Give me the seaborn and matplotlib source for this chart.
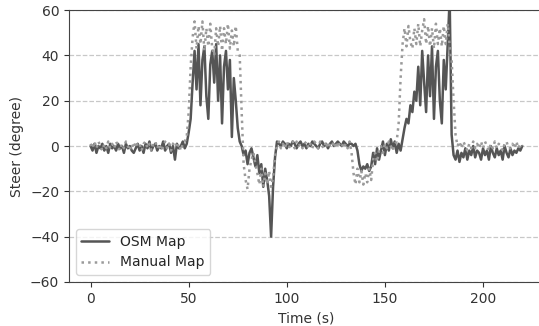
import numpy as np
import pandas as pd
import seaborn as sns
import matplotlib
matplotlib.use("Agg")
import matplotlib.pyplot as plt

# steering angle, 1 sample per second, t = 0..220
time_s = list(range(0, 221))

osm_map = [
    0, -2, 1, -3, 0, -1, 1, -2, 0, -3, 1, -1, 0, -2, 1, -1, 0, -3, 1, -1,
    0, -2, -3, -1, 1, -2, 0, -3, 1, -1, 2, -2, 0, 1, -2, 0, -1, 2, -2, 0,
    1, -3, 0, -6, 1, -1, 0, 2, -1, 1,
    6, 12, 28, 42, 25, 45, 18, 38, 44, 22, 12, 36, 42, 28, 45, 20, 40, 10, 35, 42,
    25, 38, 4, 30, 20, 8, 2, 0, -4, -2, -8, -3, -1, -5, -9, -4, -12, -8, -18, -10,
    -15, -22, -40, -18, -5,
    2, 1, 0, 2, 1, -1, 1, 0, 2, 1, -1, 1, 2, 0, 1, -1, 1, 0, 2, 1,
    0, -1, 1, 2, 0, 1, -1, 1, 2, 0, 1, 2, 1, 0, 2, 1, 0, 1, 1, 0,
    1, -2, -8, -11, -9, -10, -8, -11, -9, -3, -8, -1, -6, -2, 2, -4, 1, -2, 3, -1,
    2, -3, 1, -2, 3, 8, 12, 10, 18, 15, 24, 20, 35, 18, 42, 28, 15, 40, 22, 44,
    12, 35, 42, 20, 10, 38, 25, 45, 65, 5, -4, -6, -2, -7, -3, -5, -1, -6, -2, -4,
    0, -5, -2, -3, -6, -1, -4, -2, -6, 0, -3, -5, -1, -4, -2, -6, 0, -3, -5, -1,
    -4, -2, -3, -1, -2, 0,
]

manual_map = [
    1, -1, 2, -1, 2, 0, -2, 1, -1, 2, -1, 1, -1, 2, 0, -2, 1, -1, 2, 0,
    -2, 1, -1, 2, 0, 1, -2, 1, 2, -1, 1, -2, 1, 2, -1, 1, -2, 0, 2, -1,
    1, -2, 1, 2, -1, 1, -2, 1, 2, 4,
    15, 35, 48, 55, 43, 53, 45, 55, 42, 52, 44, 54, 43, 40, 52, 44, 53, 42, 52, 45,
    54, 43, 51, 44, 53, 42, 40, 15, -8, -15, -19, -10, -6, -3, -8, -12, -17, -10, -18, -12,
    -17, -11, -18, -14, -4,
    0, 2, -1, 1, -1, 2, -1, 1, 2, -1, 2, 0, 1, -1, 1, 2, -1, 1, -1, 2,
    1, -1, 2, 0, -1, 2, -1, 1, 0, 2, -1, 2, 0, 1, -1, 1, -1, 2, -3, -12,
    -17, -10, -16, -11, -17, -12, -16, -10, -15, -6, -3, -7, -2, 0, -3, 1, -1, 2, 0, -2,
    1, 2, 10, 30, 45, 52, 44, 53, 46, 43, 52, 45, 54, 44, 51, 56, 45, 53, 44, 52,
    43, 54, 45, 52, 44, 53, 45, 54, 44, 38, 20, 5, 0, 2, -1, 2, 0, -2, 1, -1,
    2, -1, 1, -1, 2, -1, 2, 0, -2, 1, -1, 2, -1, 1, 0, -2, 1, 2, -1, -1,
    1, -1, 2, -1, 1, 0,
]

df = pd.DataFrame({"time": time_s, "osm": osm_map, "manual": manual_map})

sns.set_style("ticks")
plt.rcParams["font.family"] = ["DejaVu Sans"]

fig = plt.figure(figsize=(5.39, 3.26), dpi=100)
ax = fig.add_axes([0.128, 0.135, 0.881, 0.834])

sns.lineplot(data=df, x="time", y="osm", ax=ax, color="#555555",
             linewidth=1.8, label="OSM Map")
sns.lineplot(data=df, x="time", y="manual", ax=ax, color="#9a9a9a",
             linewidth=1.8, linestyle=":", label="Manual Map")

ax.set_xlim(-11, 231)
ax.set_ylim(-60, 60)
ax.set_yticks([-60, -40, -20, 0, 20, 40, 60])
ax.set_xticks([0, 50, 100, 150, 200])
ax.grid(axis="y", linestyle="--", color="#c8c8c8", linewidth=0.9)
ax.set_xlabel("Time (s)", fontsize=10, color="#333333")
ax.set_ylabel("Steer (degree)", fontsize=10, color="#333333")
ax.tick_params(labelsize=10, colors="#333333")
for s in ax.spines.values():
    s.set_color("#444444")

ax.legend(loc="lower left", fontsize=10, frameon=True)

fig.savefig("out.png", dpi=100)
